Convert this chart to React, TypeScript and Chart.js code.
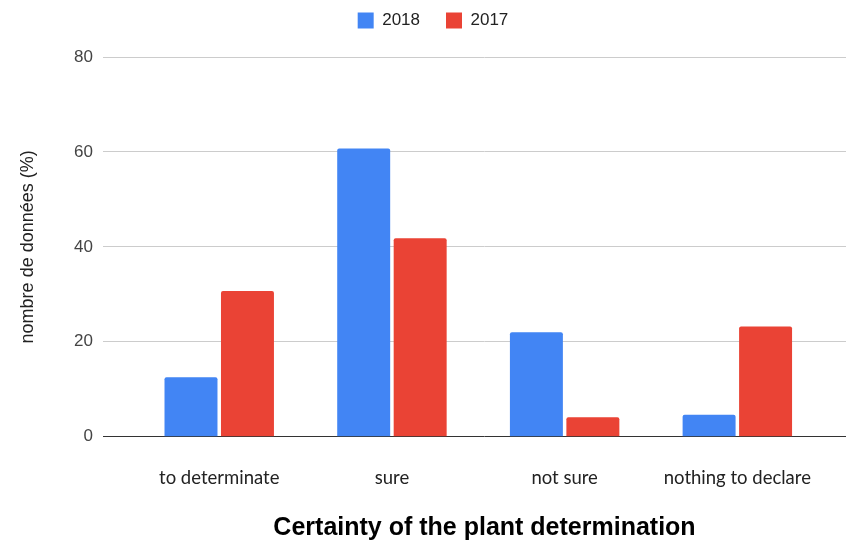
import React, { useEffect, useRef } from "react";
import { Chart, registerables } from "chart.js";

Chart.register(...registerables);

const categories = ["to determinate", "sure", "not sure", "nothing to declare"];
const seriesNames = ["2018", "2017"];
const values2018 = [12.5, 60.7, 22.0, 4.6];
const values2017 = [30.7, 41.8, 4.1, 23.2];
const yTicks = [0, 20, 40, 60, 80];
const xTitle = "Certainty of the plant determination";
const yTitle = "nombre de données (%)";

const legendGap = {
  id: "legendGap",
  beforeInit(chart: any) {
    const legend = chart.legend;
    if (!legend) return;
    const orig = legend.fit;
    legend.fit = function () {
      orig.call(this);
      this.height += 18;
    };
  },
};

export default function App() {
  const ref = useRef<HTMLCanvasElement | null>(null);

  useEffect(() => {
    if (!ref.current) return;
    const chart = new Chart(ref.current, {
      type: "bar",
      data: {
        datasets: [
          {
            label: seriesNames[0],
            data: categories.map((_, i) => ({ x: i, y: values2018[i] })),
            backgroundColor: "#4285F4",
            borderRadius: 2,
          },
          {
            label: seriesNames[1],
            data: categories.map((_, i) => ({ x: i, y: values2017[i] })),
            backgroundColor: "#EA4335",
            borderRadius: 2,
          },
        ],
      },
      options: {
        animation: false,
        responsive: true,
        maintainAspectRatio: false,
        categoryPercentage: 0.654,
        barPercentage: 0.938,
        layout: { padding: { top: -14, left: 0, right: 0, bottom: 0 } },
        plugins: {
          legend: {
            position: "top",
            labels: {
              boxWidth: 16,
              boxHeight: 16,
              padding: 26,
              color: "#222",
              font: { family: "Liberation Sans", size: 17 },
            },
          },
          tooltip: { enabled: false },
        },
        scales: {
          x: {
            type: "linear",
            min: -0.673,
            max: 3.745,
            offset: false,
            grid: { display: false, drawTicks: false },
            border: { display: false },
            afterBuildTicks: (scale: any) => {
              scale.ticks = categories.map((_, i) => ({ value: i }));
            },
            afterFit: (scale: any) => {
              scale.height = 107.3;
            },
            ticks: {
              autoSkip: false,
              maxRotation: 0,
              padding: 30.5,
              color: "#222",
              font: { family: "Lato", size: 18.5 },
              callback: (v: any) => categories[v as number] ?? "",
            },
            title: {
              display: true,
              text: xTitle,
              color: "#000",
              font: { family: "Liberation Sans", size: 25, weight: "bold" },
              padding: { top: 0, bottom: 1 },
            },
          },
          y: {
            min: yTicks[0],
            max: yTicks[yTicks.length - 1],
            afterBuildTicks: (scale: any) => {
              scale.ticks = yTicks.map((v) => ({ value: v }));
            },
            afterFit: (scale: any) => {
              scale.width = 103;
            },
            grid: {
              drawTicks: false,
              color: (ctx: any) => (ctx.tick && ctx.tick.value === 0 ? "#333" : "#cccccc"),
              lineWidth: 1,
            },
            border: { display: false },
            ticks: {
              padding: 10,
              color: "#444",
              font: { family: "Liberation Sans", size: 17 },
            },
            title: {
              display: true,
              text: yTitle,
              color: "#222",
              font: { family: "Liberation Sans", size: 18 },
              padding: { top: 17, bottom: 0 },
            },
          },
        },
      },
      plugins: [legendGap],
    });
    return () => chart.destroy();
  }, []);

  return (
    <div
      style={{
        position: "fixed",
        left: 0,
        top: 0,
        width: 846,
        height: 544,
        overflow: "hidden",
        background: "#fff",
      }}
    >
      <div style={{ position: "relative", width: 866, height: 544 }}>
        <canvas ref={ref} />
      </div>
    </div>
  );
}
